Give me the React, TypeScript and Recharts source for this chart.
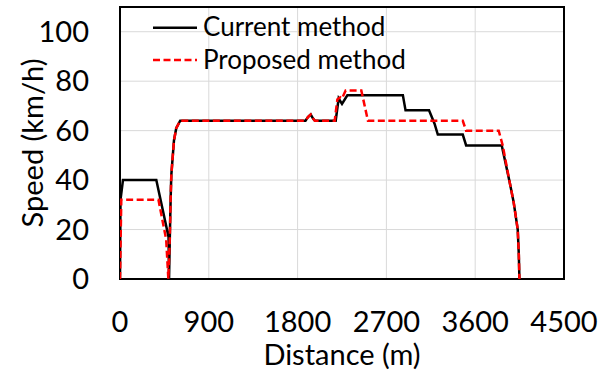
import React from 'react';
import { LineChart, Line, XAxis, YAxis, CartesianGrid, ReferenceArea, Legend } from 'recharts';

const currentDistance = [0, 5, 30, 368, 492, 497, 505, 513, 520, 547, 570, 610, 1880, 1905, 1933, 1955, 1975, 2186, 2216, 2250, 2304, 2867, 2894, 3132, 3188, 3221, 3474, 3508, 3869, 3950, 3990, 4031, 4042, 4048];
const currentSpeed = [0, 32, 40, 40, 17, 0, 17, 32, 42, 56, 61, 64, 64, 65.5, 66.5, 65, 64, 64, 73, 70.8, 74.3, 74.3, 68.2, 68.2, 62.8, 58.4, 58.4, 54, 54, 39, 31, 20, 10, 0];

const proposedDistance = [0, 13, 390, 468, 490, 505, 513, 520, 547, 570, 610, 1880, 1905, 1933, 1955, 1975, 2176, 2203, 2233, 2250, 2287, 2446, 2513, 3474, 3508, 3838, 3879, 3950, 3990, 4031, 4042, 4048];
const proposedSpeed = [0, 32, 32, 16, 0, 17, 32, 42, 56, 61, 64, 64, 65.5, 66.5, 65, 64, 64, 72.6, 73.5, 73, 76.2, 76.2, 64, 64, 60, 60, 54, 39, 31, 20, 10, 0];

const xTicks = [0, 900, 1800, 2700, 3600, 4500];
const yTicks = [0, 20, 40, 60, 80, 100];

const seriesNames = ['Current method', 'Proposed method'];

const currentData = currentDistance.map((d, i) => ({ d, v: currentSpeed[i] }));
const proposedData = proposedDistance.map((d, i) => ({ d, v: proposedSpeed[i] }));

const FONT = 'Lato, "Open Sans", sans-serif';
const DASH = '7 3.5';
const AXIS_FS = 29;
const LEGEND_FS = 26;

const LegendBox = () => (
  <svg width={260} height={70} style={{ overflow: 'visible' }}>
    <line x1={3} x2={47} y1={17.7} y2={17.7} stroke="#000" strokeWidth={2.5} />
    <text x={53} y={26} fontFamily={FONT} fontSize={LEGEND_FS} fill="#000">{seriesNames[0]}</text>
    <line x1={3} x2={47} y1={50} y2={50} stroke="#ff0000" strokeWidth={2.5} strokeDasharray={DASH} />
    <text x={53} y={59} fontFamily={FONT} fontSize={LEGEND_FS} fill="#000">{seriesNames[1]}</text>
  </svg>
);

const XTitle = () => (
  <text x={342} y={365} textAnchor="middle" fontFamily={FONT} fontSize={AXIS_FS} fill="#000">
    Distance (m)
  </text>
);

const YTitle = () => {
  const cy = 143;
  return (
    <text x={43} y={cy} textAnchor="middle" transform={`rotate(-90, 43, ${cy})`} fontFamily={FONT} fontSize={AXIS_FS} fill="#000">
      Speed (km/h)
    </text>
  );
};

export default function App() {
  return (
    <div style={{ position: 'absolute', left: 0, top: 0, width: 606, height: 372, background: '#fff' }}>
      <LineChart width={606} height={372} margin={{ top: 7, right: 42, bottom: 0, left: 0 }}>
        <CartesianGrid stroke="#d9d9d9" strokeWidth={1} />
        <XAxis
          dataKey="d"
          type="number"
          domain={[0, 4500]}
          ticks={xTicks}
          allowDataOverflow
          height={93}
          axisLine={false}
          tickLine={false}
          tickSize={0}
          tickMargin={32}
          tick={{ fontFamily: FONT, fontSize: AXIS_FS, fill: '#000' }}
          label={<XTitle />}
        />
        <YAxis
          type="number"
          domain={[0, 110]}
          ticks={yTicks}
          allowDataOverflow
          width={120}
          axisLine={false}
          tickLine={false}
          tickSize={0}
          tickMargin={31}
          tick={{ fontFamily: FONT, fontSize: AXIS_FS, fill: '#000' }}
          label={<YTitle />}
        />
        <ReferenceArea x1={0} x2={4500} y1={0} y2={110} fill="none" fillOpacity={0} stroke="#000" strokeWidth={2} />
        <Legend
          layout="horizontal"
          verticalAlign="middle"
          align="center"
          wrapperStyle={{ left: 150, top: 10, width: 260, height: 70 }}
          content={<LegendBox />}
        />
        <Line data={currentData} dataKey="v" name={seriesNames[0]} type="linear" stroke="#000" strokeWidth={2.5} dot={false} isAnimationActive={false} />
        <Line data={proposedData} dataKey="v" name={seriesNames[1]} type="linear" stroke="#ff0000" strokeWidth={2.5} strokeDasharray={DASH} dot={false} isAnimationActive={false} />
      </LineChart>
    </div>
  );
}
